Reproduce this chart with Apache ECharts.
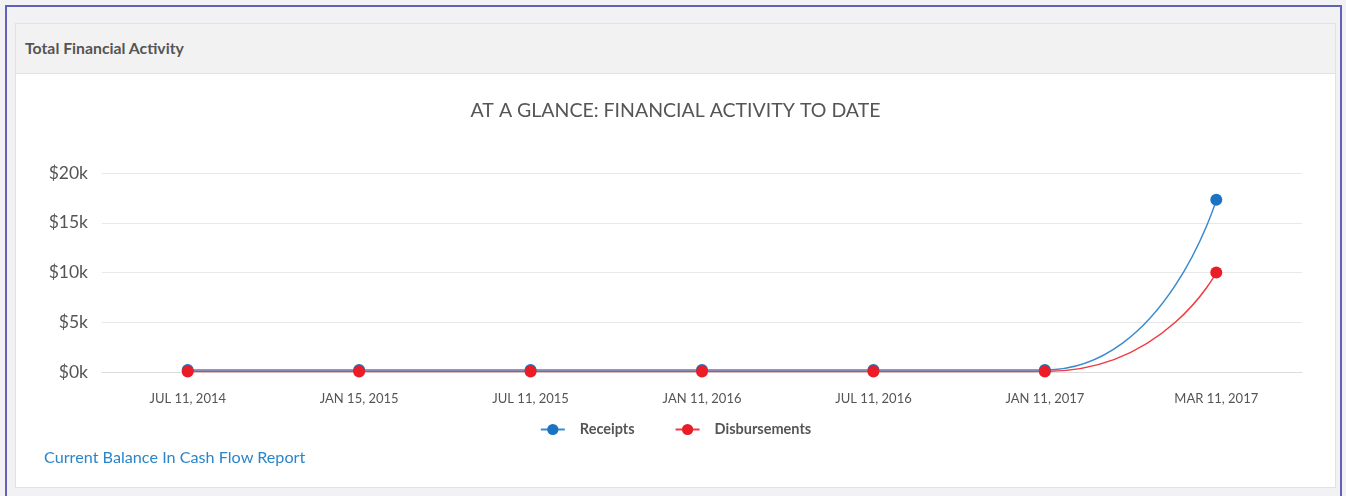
<!DOCTYPE html>
<html>
<head>
<meta charset="utf-8">
<script src="https://cdn.jsdelivr.net/npm/echarts@6/dist/echarts.min.js"></script>
<style>
  html, body { margin: 0; padding: 0; }
  body {
    width: 1346px; height: 496px; position: relative; overflow: hidden;
    background: #f2f2f4; font-family: Lato, "Open Sans", sans-serif;
  }
  .frame {
    position: absolute; left: 5px; top: 5px; width: 1337px; height: 500px;
    border-left: 2px solid #5f62b6; border-top: 2px solid #5f62b6; border-right: 2px solid #5f62b6;
    box-sizing: border-box;
  }
  .panel {
    position: absolute; left: 15px; top: 23px; width: 1321px; height: 465px;
    background: #fff; border: 1px solid #e2e2e2; box-sizing: border-box;
  }
  .panel-head {
    height: 49px; background: #f2f2f2; border-bottom: 1px solid #e2e2e2;
    font-size: 15.8px; font-weight: 700; color: #555; line-height: 47px; padding-left: 9px;
  }
  .link {
    position: absolute; left: 28px; top: 423px; font-size: 16.2px; color: #2b86c9;
  }
  #chart { position: absolute; left: 0px; top: 49px; width: 1319px; height: 414px; }
</style>
</head>
<body>
<div class="frame"></div>
<div class="panel">
  <div class="panel-head">Total Financial Activity</div>
  <div id="chart"></div>
  <div class="link">Current Balance In Cash Flow Report</div>
</div>
<script>
// Reporting dates shown along the x axis
const dates = ['JUL 11, 2014', 'JAN 15, 2015', 'JUL 11, 2015', 'JAN 11, 2016', 'JUL 11, 2016', 'JAN 11, 2017', 'MAR 11, 2017'];
// Cumulative totals in dollars
const receipts = [200, 200, 200, 200, 200, 200, 17300];
const disbursements = [40, 40, 40, 40, 40, 40, 10000];
// Value axis ticks
const yMax = 20000;
const yStep = 5000;

const BLUE = '#1b73c2';
const RED = '#ec1c26';
const TEXT = '#555';
const FONT = 'Lato, "Open Sans", sans-serif';

const chart = echarts.init(document.getElementById('chart'));
chart.setOption({
  animation: false,
  textStyle: { fontFamily: FONT },
  title: {
    text: 'AT A GLANCE: FINANCIAL ACTIVITY TO DATE',
    left: 'center', top: 28, padding: 0,
    textStyle: { fontSize: 19.5, fontWeight: 'normal', color: TEXT, fontFamily: FONT }
  },
  legend: {
    left: 'center', top: 349, padding: 0,
    itemWidth: 24, itemHeight: 14, itemGap: 40,
    textStyle: { fontSize: 14.5, fontWeight: 'bold', color: TEXT, fontFamily: FONT, padding: [0, 0, 0, 10] },
    data: ['Receipts', 'Disbursements']
  },
  grid: { left: 86, top: 100, width: 1200, height: 199 },
  xAxis: {
    type: 'category', data: dates, boundaryGap: true,
    axisLine: { lineStyle: { color: '#dcdcdc' } },
    axisTick: { length: 10, lineStyle: { color: '#cfcfcf' } },
    axisLabel: { color: TEXT, fontSize: 13, margin: 20, fontFamily: FONT }
  },
  yAxis: {
    type: 'value', min: 0, max: yMax, interval: yStep,
    axisLine: { show: false }, axisTick: { show: false },
    axisLabel: { color: TEXT, fontSize: 17.5, margin: 14, fontFamily: FONT, formatter: v => '$' + (v / 1000) + 'k' },
    splitLine: { lineStyle: { color: '#e8e8e8' } }
  },
  series: [
    {
      name: 'Receipts', type: 'line', data: receipts,
      smooth: 0.7, smoothMonotone: 'x',
      symbol: 'circle', symbolSize: 12,
      itemStyle: { color: BLUE },
      lineStyle: { color: '#3a8ad2', width: 1.5 }
    },
    {
      name: 'Disbursements', type: 'line', data: disbursements,
      smooth: 0.7, smoothMonotone: 'x',
      symbol: 'circle', symbolSize: 12,
      itemStyle: { color: RED },
      lineStyle: { color: '#ef3b42', width: 1.5 }
    }
  ]
});
</script>
</body>
</html>
